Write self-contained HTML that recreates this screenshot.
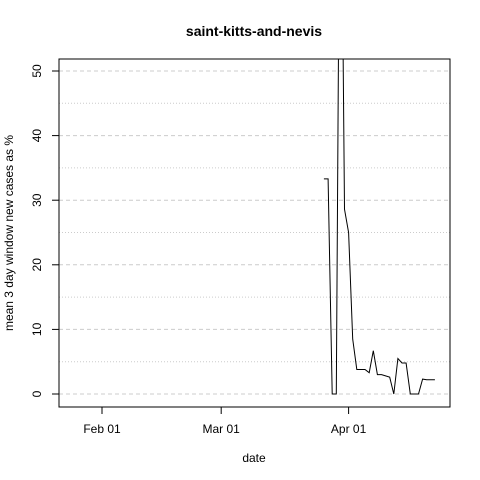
<!DOCTYPE html>
<html><head><meta charset="utf-8"><style>body{margin:0;background:#fff}svg{display:block;font-family:"Liberation Sans",Arial,sans-serif}</style></head>
<body>
<svg width="480" height="480" viewBox="0 0 480 480" xmlns="http://www.w3.org/2000/svg">
<text x="254" y="36" text-anchor="middle" font-size="14" font-weight="bold">saint-kitts-and-nevis</text>
<g id="grid"></g>
<g id="yaxis"></g>
<g id="xaxis"></g>
<clipPath id="clip"><rect x="59" y="59" width="391" height="348"/></clipPath>
<path id="line" fill="none" stroke="#000" stroke-width="1" clip-path="url(#clip)"/>
<rect x="59" y="59" width="391" height="348" fill="none" stroke="#000"/>
<text x="254" y="462" text-anchor="middle" font-size="12">date</text>
<text transform="translate(13,233) rotate(-90)" text-anchor="middle" font-size="12">mean  3  day window new cases as %</text>
</svg>
<script>
const days=[54,55,56,57,58,59,60,61,62,63,64,65,66,67,68,69,70,71,72,73,74,75,76,77,78,79,80,81];
const values=[33.3,33.3,0,0,100,28.6,25,8.5,3.8,3.8,3.8,3.3,6.7,3.0,3.0,2.8,2.6,0,5.5,4.8,4.8,0,0,0,2.3,2.2,2.2,2.2];
const yTicks=[0,10,20,30,40,50];
const xTickDays=[0,29,60];
const xTickLabels=["Feb 01","Mar 01","Apr 01"];
const X=d=>102+d*4.11;
const Y=v=>394-v*6.46;
const NS="http://www.w3.org/2000/svg";
function mk(t,a,p){const e=document.createElementNS(NS,t);for(const k in a)e.setAttribute(k,a[k]);p.appendChild(e);return e;}
const grid=document.getElementById('grid'),ya=document.getElementById('yaxis'),xa=document.getElementById('xaxis');
for(let v=0;v<=50;v+=5){const l=mk('line',{x1:59,x2:450,y1:Y(v),y2:Y(v),stroke:'#ccc','stroke-dasharray':v%10?'1,2':'4,3'},grid);

}
yTicks.forEach(v=>{const t=mk('line',{x1:52,x2:59,y1:Y(v),y2:Y(v),stroke:'#000'},ya);


const tx=mk('text',{transform:`translate(41,${Y(v)}) rotate(-90)`,'text-anchor':'middle','font-size':12},ya);


tx.textContent=v;});
xTickDays.forEach((d,i)=>{const t=mk('line',{x1:X(d),x2:X(d),y1:407,y2:414,stroke:'#000'},xa);


const tx=mk('text',{x:X(d),y:433,'text-anchor':'middle','font-size':12},xa);


tx.textContent=xTickLabels[i];});
document.getElementById('line').setAttribute('d',days.map((d,i)=>(i?'L':'M')+X(d).toFixed(1)+','+Y(values[i]).toFixed(1)).join(''));
</script>
</body></html>
